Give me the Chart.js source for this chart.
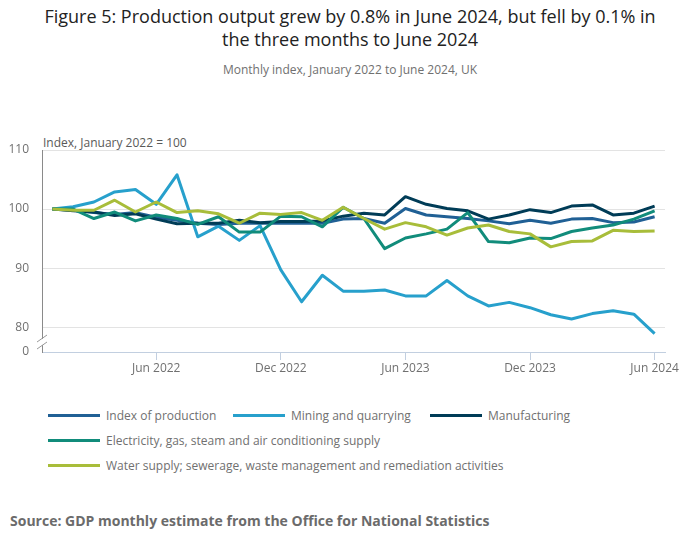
<!DOCTYPE html>
<html>
<head>
<meta charset="utf-8">
<script src="https://cdn.jsdelivr.net/npm/chart.js@4.4.0/dist/chart.umd.min.js"></script>
<style>
  body { margin: 0; background: #fff; font-family: "Open Sans", sans-serif; }
  #wrap { position: relative; width: 700px; height: 549px; overflow: hidden; }
  #title { position: absolute; left: 0; top: 5px; width: 700px; text-align: center; font-size: 18px; line-height: 23px; color: #222; }
  #subtitle { position: absolute; left: 0; top: 61px; width: 700px; text-align: center; font-size: 12px; color: #707070; }
  #ytitle { position: absolute; left: 43px; top: 134px; font-size: 12px; color: #595959; }
  #chartBox { position: absolute; left: 0; top: 100px; width: 700px; height: 280px; }
  .leg { position: absolute; font-size: 12px; color: #707070; white-space: nowrap; line-height: 16px; }
  .leg span.sw { display: inline-block; width: 52px; height: 3px; vertical-align: middle; margin-right: 6px; position: relative; top: -1px; }
  #source { position: absolute; left: 10px; top: 511px; font-size: 14px; font-weight: bold; color: #6b6b6b; }
</style>
</head>
<body>
<div id="wrap">
  <div id="title">Figure 5: Production output grew by 0.8% in June 2024, but fell by 0.1% in<br>the three months to June 2024</div>
  <div id="subtitle">Monthly index, January 2022 to June 2024, UK</div>
  <div id="ytitle">Index, January 2022 = 100</div>
  <div id="chartBox"><canvas id="myChart" width="700" height="280"></canvas></div>
  <div id="legend"></div>
  <div id="source">Source: GDP monthly estimate from the Office for National Statistics</div>
</div>
<script>
const months = ['Jan 2022','Feb 2022','Mar 2022','Apr 2022','May 2022','Jun 2022','Jul 2022','Aug 2022','Sep 2022','Oct 2022','Nov 2022','Dec 2022',
  'Jan 2023','Feb 2023','Mar 2023','Apr 2023','May 2023','Jun 2023','Jul 2023','Aug 2023','Sep 2023','Oct 2023','Nov 2023','Dec 2023',
  'Jan 2024','Feb 2024','Mar 2024','Apr 2024','May 2024','Jun 2024'];
const shownMonths = ['Jun 2022','Dec 2022','Jun 2023','Dec 2023','Jun 2024'];
const yTicks = [80, 90, 100, 110];

const indexOfProduction = [100, 99.8, 99.4, 99.1, 99.4, 98.6, 98.1, 97.6, 97.4, 97.6, 97.6, 97.6, 97.6, 97.6, 98.3, 98.4, 97.6, 100.1, 99.0, 98.7, 98.4, 98.0, 97.5, 98.1, 97.6, 98.3, 98.4, 97.7, 97.8, 98.7];
const mining = [100, 100.4, 101.2, 102.9, 103.3, 100.8, 105.8, 95.3, 97.1, 94.7, 97.2, 89.7, 84.3, 88.8, 86.1, 86.1, 86.3, 85.3, 85.3, 87.9, 85.3, 83.6, 84.2, 83.3, 82.1, 81.4, 82.3, 82.8, 82.2, 78.9];
const manufacturing = [100, 99.7, 99.5, 98.9, 99.2, 98.3, 97.5, 97.6, 97.6, 98.1, 97.7, 97.9, 97.9, 98.0, 98.8, 99.3, 99.0, 102.1, 100.8, 100.1, 99.7, 98.3, 99.0, 99.9, 99.4, 100.5, 100.7, 99.0, 99.3, 100.5];
const electricity = [100, 100, 98.4, 99.5, 98.0, 99.0, 98.4, 97.4, 98.7, 96.1, 96.1, 98.8, 98.7, 97.0, 100.3, 98.4, 93.3, 95.1, 95.8, 96.6, 99.4, 94.5, 94.3, 95.1, 95.0, 96.2, 96.8, 97.3, 98.3, 99.7];
const water = [100, 99.8, 99.8, 101.5, 99.5, 101.2, 99.4, 99.7, 99.2, 97.6, 99.3, 99.1, 99.4, 98.1, 100.3, 98.4, 96.6, 97.7, 97.0, 95.6, 96.8, 97.3, 96.2, 95.8, 93.6, 94.5, 94.6, 96.4, 96.2, 96.3];

const seriesNames = ['Index of production', 'Mining and quarrying', 'Manufacturing',
  'Electricity, gas, steam and air conditioning supply',
  'Water supply; sewerage, waste management and remediation activities'];
const seriesData = [indexOfProduction, mining, manufacturing, electricity, water];
const colours = ['#206095', '#27a0cc', '#003c57', '#118c7b', '#a8bd3a'];

// axis is broken: bottom tick is labelled 0 but sits just under 80
const axisBottom = 75.8;

// legend (html, laid out like the original)
const legPos = [[48, 408], [233, 408], [430, 408], [48, 433], [48, 458]];
const legend = document.getElementById('legend');
seriesNames.forEach((name, i) => {
  const d = document.createElement('div');
  d.className = 'leg';
  d.style.left = legPos[i][0] + 'px';
  d.style.top = legPos[i][1] + 'px';
  d.innerHTML = '<span class="sw" style="background:' + colours[i] + '"></span>' + name;
  legend.appendChild(d);
});

const axisBreak = {
  id: 'axisBreak',
  afterDraw(chart) {
    const ctx = chart.ctx;
    const x = chart.chartArea.left;
    const y = chart.scales.y.getPixelForValue(axisBottom);
    ctx.save();
    ctx.fillStyle = '#fff';
    ctx.fillRect(x - 2, y - 13, 4, 6);
    ctx.strokeStyle = '#999';
    ctx.lineWidth = 1;
    ctx.beginPath();
    ctx.moveTo(x - 5, y - 10); ctx.lineTo(x + 5, y - 17);
    ctx.moveTo(x - 5, y - 3); ctx.lineTo(x + 5, y - 10);
    ctx.stroke();
    ctx.restore();
  }
};

new Chart(document.getElementById('myChart'), {
  type: 'line',
  data: {
    labels: months,
    datasets: seriesData.map((d, i) => ({
      label: seriesNames[i],
      data: d,
      borderColor: colours[i],
      backgroundColor: colours[i],
      borderWidth: 3,
      pointRadius: 0,
      tension: 0,
      borderJoinStyle: 'round',
      order: 5 - i
    }))
  },
  options: {
    responsive: false,
    animation: false,
    layout: { padding: { top: 50, right: 35, left: 0, bottom: 0 } },
    plugins: { legend: { display: false }, tooltip: { enabled: false } },
    scales: {
      x: {
        type: 'category',
        offset: true,
        afterFit(scale) { scale.height = 28; },
        grid: {
          offset: false,
          drawOnChartArea: false,
          drawTicks: true,
          tickLength: 8,
          color: (c) => shownMonths.includes(months[c.index]) ? '#c2cfe0' : 'rgba(0,0,0,0)'
        },
        border: { display: true, color: '#c2cfe0', width: 1 },
        ticks: {
          autoSkip: false,
          maxRotation: 0,
          padding: 1,
          color: '#707070',
          font: { family: 'Open Sans', size: 12 },
          callback: (v, i) => shownMonths.includes(months[i]) ? months[i] : ''
        }
      },
      y: {
        min: axisBottom,
        max: 110,
        afterFit(scale) { scale.width = 42; },
        afterBuildTicks(scale) {
          scale.ticks = [axisBottom].concat(yTicks).map(v => ({ value: v }));
        },
        grid: {
          drawTicks: false,
          color: (c) => c.tick && c.tick.value === axisBottom ? 'rgba(0,0,0,0)' : '#e3e3e3'
        },
        border: { display: true, color: '#8a8a8a', width: 1 },
        ticks: {
          padding: 13,
          color: '#707070',
          font: { family: 'Open Sans', size: 12 },
          callback: (v) => v === axisBottom ? '0' : v
        }
      }
    }
  },
  plugins: [axisBreak]
});
</script>
</body>
</html>
